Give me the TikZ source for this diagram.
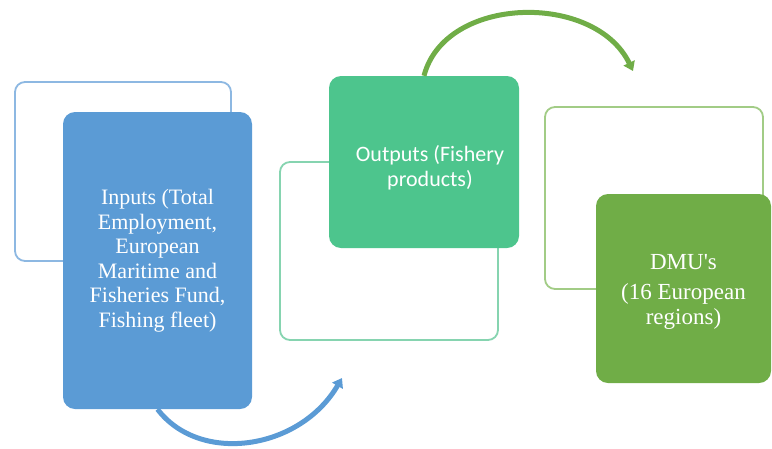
\documentclass[tikz,border=0pt]{standalone}
\usepackage{fontspec}
\setmainfont{Liberation Serif}
\newfontfamily\outfont{Carlito}
\usetikzlibrary{arrows.meta}

\definecolor{inblue}{HTML}{5B9BD5}
\definecolor{inline}{HTML}{8DB8E2}
\definecolor{outgreen}{HTML}{4DC58D}
\definecolor{outline}{HTML}{86D4B0}
\definecolor{dmugreen}{HTML}{70AD47}
\definecolor{dmuline}{HTML}{A2CC86}

\tikzset{
  backbox/.style={draw, line width=1.8pt, rounded corners=10pt, fill=white, inner sep=0pt},
  frontbox/.style={rounded corners=12pt, text=white, align=center, inner sep=0pt},
  flowarrow/.style={line width=5pt, -{Triangle[length=9pt,width=12pt]}}
}

\begin{document}
\begin{tikzpicture}[x=1pt,y=-1pt]
\useasboundingbox (0,0) rectangle (772,448);

% inputs
\node[backbox, draw=inline, minimum width=216pt, minimum height=179pt] (inback) at (123,171.5) {};
\node[frontbox, fill=inblue, minimum width=189pt, minimum height=297pt,
  font=\fontsize{22}{24.5}\selectfont] (inputs) at (157.5,260.5)
  {Inputs (Total\\Employment,\\European\\Maritime and\\Fisheries Fund,\\Fishing fleet)};

% outputs
\node[backbox, draw=outline, minimum width=218pt, minimum height=178pt] (outback) at (389,251) {};
\node[frontbox, fill=outgreen, minimum width=190pt, minimum height=172pt] (outputs) at (424,162) {};
\node[text=white, align=center, font=\outfont\fontsize{22}{25}\selectfont] (outtext) at (430,168)
  {Outputs (Fishery\\products)};

% DMUs
\node[backbox, draw=dmuline, minimum width=218pt, minimum height=182pt] (dmuback) at (654,198) {};
\node[frontbox, fill=dmugreen, minimum width=175pt, minimum height=189pt] (dmus) at (683.5,288.5) {};
\node[text=white, align=center, font=\fontsize{23}{25}\selectfont] (dmutext) at (683.5,292)
  {DMU\textquotesingle s\\[5pt](16 European\\regions)};

% arrows
\coordinate (bluetip) at (342,378);
\coordinate (greentip) at (633,71);
\draw[flowarrow, inblue] (inputs.south) .. controls (200,465) and (300,450) .. (bluetip);
\draw[flowarrow, dmugreen] (outputs.north) .. controls (445,-5) and (595,-8) .. (greentip);

\end{tikzpicture}
\end{document}
